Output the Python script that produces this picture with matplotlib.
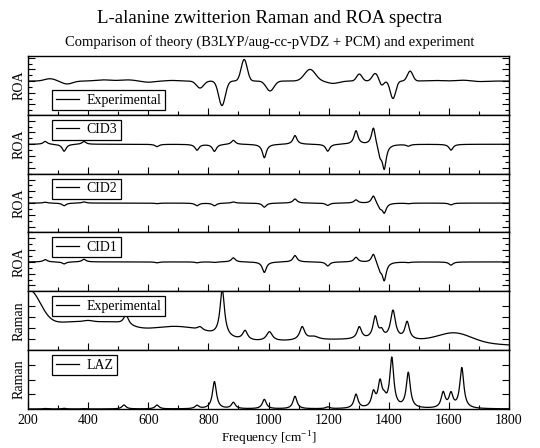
import numpy as np
import matplotlib
matplotlib.use("Agg")
import matplotlib.pyplot as plt
from matplotlib.ticker import MultipleLocator

plt.rcParams['font.family'] = ['Liberation Serif', 'DejaVu Serif']
plt.rcParams['mathtext.fontset'] = 'custom'
plt.rcParams['mathtext.rm'] = 'Liberation Serif'

# frequency axis (cm^-1)
freq = np.linspace(200, 1800, 1601)

# ---- theory band positions (cm^-1), shared by LAZ Raman and CID ROA ----
modes = [257, 320, 386, 519, 629, 762, 820, 883, 986, 1088, 1197, 1291, 1349, 1371, 1385, 1410, 1465, 1581, 1607, 1643]
hwhm_theory = 8.0

# Raman intensities of LAZ (arb.)
laz_raman = [0.03, 0.04, 0.02, 0.27, 0.26, 0.22, 1.85, 0.42, 0.64, 0.85, 0.12, 0.95, 1.0, 1.65, 0.45, 3.35, 2.4, 1.05, 0.95, 2.75]

# ROA intensities (arb.) of the three CID calculations
cid3_roa = [0.5, -1.2, 0.5, 0.0, -0.4, -1.0, -1.2, 0.7, -2.3, 1.5, -1.2, 2.3, 3.1, -1.8, -4.0, 0.0, -0.3, 0.0, -1.0, 0.0]
cid2_roa = [0.15, -0.45, 0.2, 0.0, -0.1, -0.45, -0.45, 0.2, -0.7, 0.7, -0.4, 0.55, 1.35, -0.8, -1.6, 0.0, -0.1, 0.0, -0.3, 0.0]
cid1_roa = [0.4, -0.35, 0.45, 0.0, -0.15, -0.15, -0.1, 0.7, -1.8, 1.1, -0.7, 0.8, 1.55, -1.2, -3.0, 0.0, -0.1, 0.0, -0.55, 0.0]

# ---- experimental ROA bands: centre, height, gaussian width ----
exp_roa_pos = [273, 330, 450, 530, 600, 680, 772, 845, 919, 1005, 1138, 1215, 1302, 1355, 1376, 1414, 1471, 1550, 1650, 1700]
exp_roa_amp = [0.4, -0.5, 0.2, 0.2, -0.2, 0.1, -1.2, -4.2, 3.7, -1.7, 2.0, -0.4, 1.2, 1.3, -0.8, -3.0, 1.7, 0.1, 0.15, -0.1]
exp_roa_wid = [18, 18, 25, 25, 20, 20, 12, 11, 10, 13, 18, 20, 9, 10, 7, 9, 9, 25, 25, 25]

# ---- experimental Raman: sharp bands (lorentzian) + broad background (gaussian) ----
exp_raman_pos = [400, 526, 772, 846, 922, 1003, 1112, 1150, 1302, 1355, 1376, 1414, 1461]
exp_raman_amp = [0.2, 0.9, 0.3, 4.3, 0.85, 0.85, 1.2, 0.3, 1.1, 2.0, 0.6, 2.6, 1.6]
exp_raman_wid = [25, 10, 10, 9, 10, 12, 10, 20, 9, 9, 8, 10, 9]

bg_pos = [200, 330, 490, 680, 1300, 1620]
bg_amp = [4.2, 2.4, 1.0, 1.8, 0.95, 0.85]
bg_wid = [40, 110, 60, 120, 420, 55]

panel_names = ["Experimental", "CID3", "CID2", "CID1", "Experimental", "LAZ"]
panel_ylabels = ["ROA", "ROA", "ROA", "ROA", "Raman", "Raman"]


def lorentz(pos, amp, wid):
	y = np.zeros_like(freq)
	for c, h, w in zip(pos, amp, wid):
		y += h / (1.0 + ((freq - c) / w) ** 2)
	return y


def gauss(pos, amp, wid):
	y = np.zeros_like(freq)
	for c, h, s in zip(pos, amp, wid):
		y += h * np.exp(-0.5 * ((freq - c) / s) ** 2)
	return y


w_th = [hwhm_theory] * len(modes)
curves = [
	gauss(exp_roa_pos, exp_roa_amp, exp_roa_wid),
	lorentz(modes, cid3_roa, w_th),
	lorentz(modes, cid2_roa, w_th),
	lorentz(modes, cid1_roa, w_th),
	lorentz(exp_raman_pos, exp_raman_amp, exp_raman_wid) + gauss(bg_pos, bg_amp, bg_wid),
	lorentz(modes, laz_raman, w_th),
]
ylims = [(-5.8, 4.3), (-5, 5), (-5, 5), (-5, 5), (0, 5.36), (0, 4)]

fig, axes = plt.subplots(6, 1, figsize=(5.4, 4.48), dpi=100, sharex=True)
fig.subplots_adjust(left=0.052, right=0.9426, top=0.875, bottom=0.0871, hspace=0)

for i, ax in enumerate(axes):
	ax.plot(freq, curves[i], color='black', lw=0.9, label=panel_names[i])
	ax.set_xlim(200, 1800)
	ax.set_ylim(*ylims[i])
	ax.xaxis.set_major_locator(MultipleLocator(200))
	ax.xaxis.set_minor_locator(MultipleLocator(100))
	if i < 4:
		ax.yaxis.set_major_locator(MultipleLocator(2))
		ax.yaxis.set_minor_locator(MultipleLocator(1))
	else:
		top = int(ylims[i][1])
		ax.set_yticks(range(1, top if top < ylims[i][1] else top))
	ax.tick_params(which='both', direction='in', top=False, right=True, labelleft=False, width=0.8)
	ax.tick_params(which='major', length=5)
	ax.tick_params(which='minor', length=3)
	for sp in ax.spines.values():
		sp.set_linewidth(1.0)
	ax.set_ylabel(panel_ylabels[i], fontsize=10)
	ax.yaxis.set_label_coords(-0.005, 0.5)
	# legend box: opaque, square, tight
	if i == 0:
		leg = ax.legend(loc='lower left', bbox_to_anchor=(0.05, 0.08), borderaxespad=0,
						fontsize=10, framealpha=1, borderpad=0.25, handlelength=1.7, handletextpad=0.55)
	else:
		leg = ax.legend(loc='upper left', bbox_to_anchor=(0.05, 0.915), borderaxespad=0,
						fontsize=10, framealpha=1, borderpad=0.25, handlelength=1.7, handletextpad=0.55)
	leg.get_frame().set_edgecolor('black')
	leg.get_frame().set_linewidth(0.9)
	leg.get_frame().set_boxstyle('square', pad=0)
	if i < 5:
		ax.tick_params(labelbottom=False)

axes[-1].tick_params(labelsize=10)
axes[-1].set_xlabel("Frequency [cm$^{-1}$]", fontsize=9.5, labelpad=2)

fig.text(0.5, 0.958, "L-alanine zwitterion Raman and ROA spectra", ha='center', va='center', fontsize=13.6)
fig.text(0.5, 0.907, "Comparison of theory (B3LYP/aug-cc-pVDZ + PCM) and experiment", ha='center', va='center', fontsize=10.5)

plt.savefig("out.png", dpi=100)
